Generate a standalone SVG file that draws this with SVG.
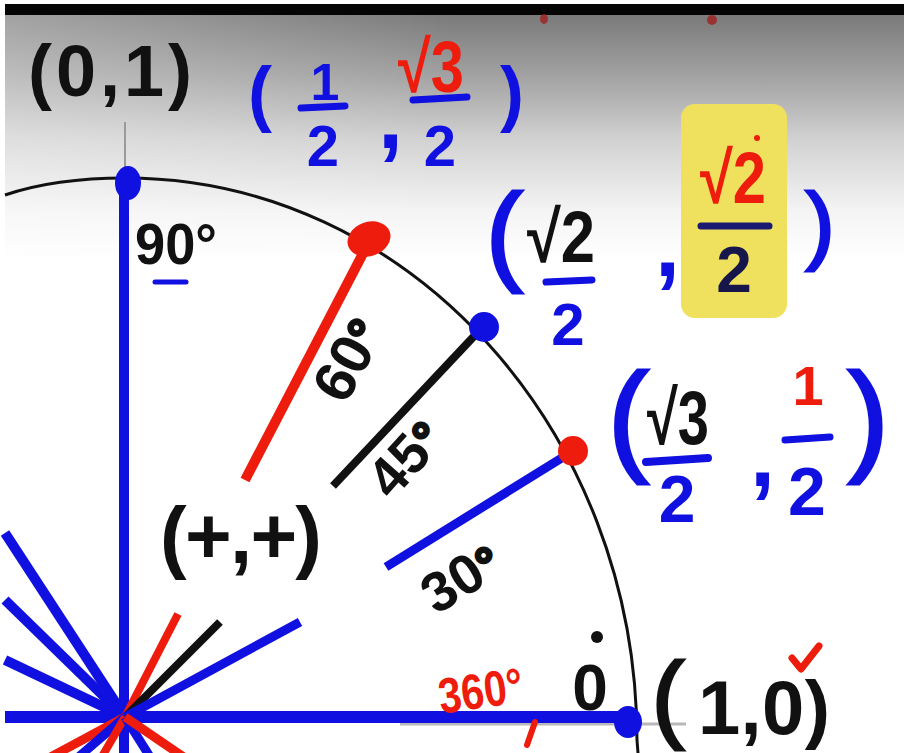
<svg xmlns="http://www.w3.org/2000/svg" width="904" height="753" viewBox="0 0 904 753">
<defs>
<linearGradient id="bg" x1="0" y1="0" x2="0" y2="1">
<stop offset="0" stop-color="#7a7a7a"/>
<stop offset="0.25" stop-color="#a2a2a2"/>
<stop offset="0.5" stop-color="#d0d0d0"/>
<stop offset="0.8" stop-color="#f4f4f4"/>
<stop offset="1" stop-color="#ffffff"/>
</linearGradient>
<linearGradient id="bgh" x1="0" y1="0" x2="1" y2="0">
<stop offset="0" stop-color="#ffffff" stop-opacity="0.3"/>
<stop offset="0.5" stop-color="#ffffff" stop-opacity="0"/>
</linearGradient>
<style>
.hw{font-family:"Liberation Sans","DejaVu Sans",sans-serif;font-weight:700}
.thin{font-weight:400}
.b{fill:#1010e0}.r{fill:#ee1c0c}.k{fill:#111111}.n{fill:#16164a}
.ray{fill:none;stroke-linecap:butt}
.sb{stroke:#1010e0}.sr{stroke:#ee1c0c}.sk{stroke:#111111}
.bar{stroke-width:7;stroke-linecap:round}
</style>
</defs>
<rect width="904" height="753" fill="#ffffff"/>
<rect x="5" y="15" width="899" height="245" fill="url(#bg)"/>
<rect x="5" y="15" width="899" height="245" fill="url(#bgh)"/>
<rect x="5" y="4" width="899" height="11" fill="#050505"/>
<ellipse cx="544" cy="19" rx="4" ry="5" fill="#a02020" opacity="0.8"/>
<ellipse cx="712" cy="20" rx="5" ry="5" fill="#a02020" opacity="0.8"/>

<path id="arc" d="M5,195 Q55,178 125,178 C408,178 637,430 637,740 L638,753" fill="none" stroke="#111" stroke-width="3"/>
<line x1="125" y1="122" x2="125" y2="170" stroke="#9a9a9a" stroke-width="2"/>
<line x1="400" y1="724" x2="686" y2="724" stroke="#b8b8b8" stroke-width="3"/>

<g id="connectors">
<line class="ray sb" x1="124" y1="178" x2="124" y2="753" stroke-width="10"/>
<line class="ray sb" x1="5" y1="717" x2="632" y2="717" stroke-width="12"/>
<line class="ray sb" x1="125" y1="717" x2="5" y2="533" stroke-width="10"/>
<line class="ray sb" x1="125" y1="717" x2="5" y2="600" stroke-width="10"/>
<line class="ray sb" x1="125" y1="717" x2="5" y2="660" stroke-width="10"/>
<line class="ray sr" x1="125" y1="717" x2="178" y2="614" stroke-width="8"/>
<line class="ray sk" x1="125" y1="717" x2="220" y2="622" stroke-width="8"/>
<line class="ray sb" x1="125" y1="717" x2="300" y2="622" stroke-width="9"/>
<line class="ray sr" x1="125" y1="717" x2="45" y2="760" stroke-width="9"/>
<line class="ray sb" x1="125" y1="717" x2="75" y2="760" stroke-width="9"/>
<line class="ray sr" x1="125" y1="717" x2="100" y2="760" stroke-width="8"/>
<line class="ray sb" x1="125" y1="717" x2="152" y2="760" stroke-width="9"/>
<line class="ray sr" x1="125" y1="717" x2="188" y2="760" stroke-width="9"/>
<line class="ray sr" x1="245" y1="480" x2="370" y2="240" stroke-width="10"/>
<line class="ray sk" x1="333" y1="486" x2="478" y2="332" stroke-width="8"/>
<line class="ray sb" x1="386" y1="567" x2="573" y2="451" stroke-width="9"/>
</g>

<g id="pt-90">
<ellipse cx="128" cy="183" rx="13" ry="17" class="b"/>
<text class="hw k" x="28" y="96" font-size="72" textLength="164" lengthAdjust="spacing">(0,1)</text>
<text class="hw k" x="135" y="264" font-size="58" textLength="82" lengthAdjust="spacingAndGlyphs">90°</text>
<line class="sb" x1="155" y1="282" x2="186" y2="282" stroke-width="5" stroke-linecap="round"/>
</g>

<g id="pt-60">
<ellipse cx="369" cy="239" rx="22" ry="17" transform="rotate(-20 369 239)" class="r"/>
<text class="hw k" transform="translate(342 368) rotate(-62)" x="-32" y="21" font-size="58">60<tspan font-size="50" stroke="#111" stroke-width="3">°</tspan></text>
<text class="hw b" x="248" y="118" font-size="72">(</text>
<text class="hw b" x="325" y="100" font-size="52" text-anchor="middle">1</text>
<line class="sb bar" x1="301" y1="108" x2="345" y2="106"/>
<text class="hw b" x="323" y="166" font-size="58" text-anchor="middle">2</text>
<text class="hw b" x="378" y="148" font-size="90">,</text>
<text class="hw r" x="398" y="92" font-size="72" textLength="66" lengthAdjust="spacingAndGlyphs">√3</text>
<line class="sb bar" x1="413" y1="100" x2="467" y2="97"/>
<text class="hw b" x="440" y="166" font-size="58" text-anchor="middle">2</text>
<text class="hw b" x="500" y="118" font-size="72">)</text>
</g>

<g id="pt-45">
<circle cx="484" cy="327" r="15" class="b"/>
<text class="hw k" transform="translate(398 465) rotate(-48)" x="-31" y="20" font-size="56">45<tspan font-size="48" stroke="#111" stroke-width="3">°</tspan></text>
<text class="hw thin b" x="486" y="270" font-size="110" stroke="#1010e0" stroke-width="3">(</text>
<text class="hw k" x="527" y="262" font-size="72" textLength="68" lengthAdjust="spacingAndGlyphs">√2</text>
<line class="sb bar" x1="546" y1="282" x2="592" y2="280"/>
<text class="hw b" x="568" y="345" font-size="60" text-anchor="middle">2</text>
<text class="hw b" x="655" y="276" font-size="90">,</text>
<rect x="681" y="104" width="106" height="214" rx="14" fill="#efe15e"/>
<text class="hw r" x="700" y="203" font-size="72" textLength="66" lengthAdjust="spacingAndGlyphs">√2</text>
<circle cx="757" cy="138" r="3" class="r"/>
<line class="bar" x1="701" y1="226" x2="769" y2="226" stroke="#1a1a70"/>
<text class="hw n" x="734" y="292" font-size="64" text-anchor="middle">2</text>
<text class="hw thin b" x="806" y="253" font-size="85" stroke="#1010e0" stroke-width="3">)</text>
</g>

<g id="pt-30">
<circle cx="573" cy="451" r="15" class="r"/>
<text class="hw k" transform="translate(452 582) rotate(-32)" x="-31" y="20" font-size="56">30<tspan font-size="48" stroke="#111" stroke-width="3">°</tspan></text>
<text class="hw thin b" x="608" y="459" font-size="122" stroke="#1010e0" stroke-width="3">(</text>
<text class="hw k" x="647" y="444" font-size="76" textLength="62" lengthAdjust="spacingAndGlyphs">√3</text>
<line class="sb" x1="646" y1="462" x2="708" y2="458" stroke-width="8" stroke-linecap="round"/>
<text class="hw b" x="677" y="522" font-size="66" text-anchor="middle">2</text>
<text class="hw b" x="750" y="486" font-size="90">,</text>
<text class="hw r" x="808" y="405" font-size="56" text-anchor="middle">1</text>
<line class="sb bar" x1="785" y1="440" x2="830" y2="437"/>
<text class="hw b" x="807" y="515" font-size="68" text-anchor="middle">2</text>
<text class="hw thin b" x="848" y="459" font-size="122" stroke="#1010e0" stroke-width="3">)</text>
</g>

<g id="quadrant-label">
<text class="hw k" x="160" y="563" font-size="80" textLength="162" lengthAdjust="spacing">(+,+)</text>
</g>

<g id="pt-0">
<ellipse cx="628" cy="722" rx="14" ry="16" class="b"/>
<text class="hw r" transform="rotate(-8 480 690)" x="438" y="708" font-size="50" textLength="85" lengthAdjust="spacingAndGlyphs">360°</text>
<line class="sr" x1="535" y1="722" x2="527" y2="745" stroke-width="6" stroke-linecap="round"/>
<text class="hw k" x="590" y="710" font-size="64" text-anchor="middle">0</text>
<circle cx="597" cy="637" r="6" class="k"/>
<text class="hw thin k" x="652" y="730" font-size="96" stroke="#111" stroke-width="3">(</text>
<text class="hw k" x="698" y="734" font-size="76" textLength="132" lengthAdjust="spacing">1,0)</text>
<path d="M792,658 L801,669 L819,646" fill="none" stroke="#ee1c0c" stroke-width="7" stroke-linecap="round" stroke-linejoin="round"/>
</g>
</svg>
